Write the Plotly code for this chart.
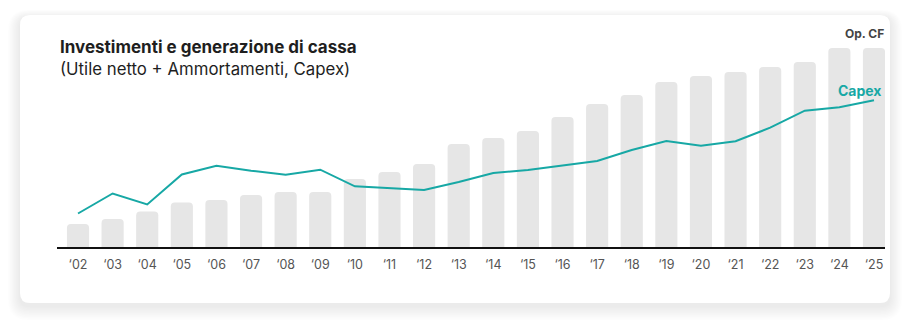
import plotly.graph_objects as go

# Fiscal years shown on the x axis
years = ["02", "03", "04", "05", "06", "07", "08", "09", "10", "11", "12", "13",
         "14", "15", "16", "17", "18", "19", "20", "21", "22", "23", "24", "25"]
tick_labels = ["\u2018" + y for y in years]

# Operating cash flow (net income + depreciation) – bars
op_cf = [23, 28, 35.5, 44.5, 47, 52, 55, 55, 68, 75, 83, 103,
         109, 116, 130, 143, 152, 165, 171, 175, 180, 185, 199, 199]

# Capital expenditure – line
capex = [33.5, 53.5, 42.5, 72.5, 81.3, 76.3, 72.3, 77.3, 60.7, 59, 57, 65,
         74, 77, 81.5, 86, 97, 106, 101.3, 105.7, 119.3, 136.3, 139.7, 146.7]

W, H = 904, 329
ML, MR, MT, MB = 57, 19, 40, 82
PW, PH = W - ML - MR, H - MT - MB

TEAL = "#17a8a5"
BAR = "#e6e6e6"
FONT = "Inter, 'Open Sans', sans-serif"


def px_x(x):
    return (x - ML) / PW


def px_y(y):
    return (H - MB - y) / PH


def rounded_rect(x0, y0, x1, y1, r):
    """SVG path of a rounded rectangle given in pixel coordinates, emitted in paper units."""
    X0, X1 = px_x(x0), px_x(x1)
    Y0, Y1 = px_y(y0), px_y(y1)
    rx, ry = r / PW, r / PH
    return (f"M {X0 + rx},{Y0} L {X1 - rx},{Y0} Q {X1},{Y0} {X1},{Y0 - ry} "
            f"L {X1},{Y1 + ry} Q {X1},{Y1} {X1 - rx},{Y1} "
            f"L {X0 + rx},{Y1} Q {X0},{Y1} {X0},{Y1 + ry} "
            f"L {X0},{Y0 - ry} Q {X0},{Y0} {X0 + rx},{Y0} Z")


fig = go.Figure()

fig.add_trace(go.Bar(
    x=years, y=op_cf, marker=dict(color=BAR, line=dict(width=0)),
    hoverinfo="skip", name="Op. CF",
))
fig.add_trace(go.Scatter(
    x=years, y=capex, mode="lines", line=dict(color=TEAL, width=2),
    hoverinfo="skip", name="Capex",
))

# Card with a soft drop shadow
shapes = []
for i in range(10, 0, -1):
    shapes.append(dict(
        type="path", xref="paper", yref="paper", layer="below",
        path=rounded_rect(20 - i * 1.2, 15 - i * 0.8 + 3, 890 + i * 1.2, 303 + i * 1.4 + 3, 10 + i),
        fillcolor="rgba(0,0,0,0.007)", line=dict(width=0),
    ))
shapes.append(dict(
    type="path", xref="paper", yref="paper", layer="below",
    path=rounded_rect(20, 15, 890, 303, 10),
    fillcolor="#ffffff", line=dict(width=0),
))

annotations = [
    dict(text="<b>Investimenti e generazione di cassa</b>", x=px_x(58), y=px_y(47),
         xref="paper", yref="paper", xanchor="left", yanchor="middle", showarrow=False,
         font=dict(family=FONT, size=17, color="#1e1e1e")),
    dict(text="(Utile netto + Ammortamenti, Capex)", x=px_x(58), y=px_y(69),
         xref="paper", yref="paper", xanchor="left", yanchor="middle", showarrow=False,
         font=dict(family=FONT, size=16.8, color="#1e1e1e")),
    dict(text="<b>Op. CF</b>", x=px_x(886), y=px_y(33),
         xref="paper", yref="paper", xanchor="right", yanchor="middle", showarrow=False,
         font=dict(family=FONT, size=12, color="#444444")),
    dict(text="<b>Capex</b>", x=px_x(884), y=px_y(90),
         xref="paper", yref="paper", xanchor="right", yanchor="middle", showarrow=False,
         font=dict(family=FONT, size=14, color=TEAL)),
]

fig.update_layout(
    width=W, height=H,
    margin=dict(l=ML, r=MR, t=MT, b=MB, pad=0),
    paper_bgcolor="#ffffff", plot_bgcolor="rgba(0,0,0,0)",
    showlegend=False, bargap=0.36, barcornerradius=4,
    shapes=shapes, annotations=annotations,
    xaxis=dict(
        type="category", range=[-0.607, 23.318],
        tickmode="array", tickvals=years, ticktext=tick_labels,
        showline=True, linecolor="#111111", linewidth=1.5,
        showgrid=False, zeroline=False, ticks="",
        tickfont=dict(family=FONT, size=12.5, color="#555555"),
        ticklabelstandoff=5, fixedrange=True,
    ),
    yaxis=dict(range=[0, PH], visible=False, fixedrange=True),
)

fig.write_html("out.html", config=dict(displayModeBar=False))
